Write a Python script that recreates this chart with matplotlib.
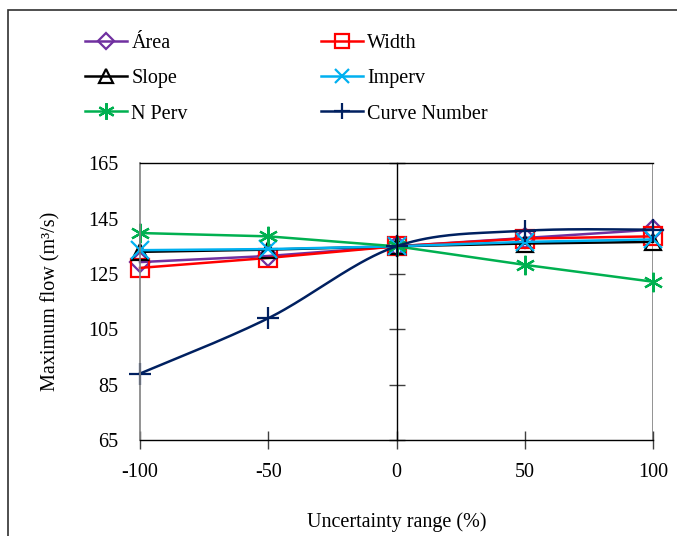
import numpy as np
import matplotlib
matplotlib.use("Agg")
import matplotlib.pyplot as plt
from matplotlib.patches import Rectangle
from matplotlib.lines import Line2D

plt.rcParams['font.family'] = ['Liberation Serif', 'DejaVu Serif']

uncertainty = [-100, -50, 0, 50, 100]
area = [129.3, 131.5, 135.0, 138.0, 141.0]
width = [127.2, 130.8, 135.0, 137.8, 138.6]
slope = [133.0, 133.8, 135.0, 136.0, 136.6]
imperv = [133.6, 134.0, 135.0, 136.6, 137.5]
n_perv = [139.8, 138.6, 135.0, 128.3, 122.2]
curve_number = [89.0, 109.0, 135.0, 140.6, 141.0]

y_ticks = [65, 85, 105, 125, 145, 165]
x_ticks = [-100, -50, 0, 50, 100]


def excel_smooth(x, y, n=40):
    """Piecewise cubic Bezier through the points (spreadsheet-style smoothing)."""
    p = np.column_stack([x, y]).astype(float)
    out = []
    for i in range(len(p) - 1):
        p0 = p[i - 1] if i > 0 else p[i]
        p1, p2 = p[i], p[i + 1]
        p3 = p[i + 2] if i + 2 < len(p) else p[i + 1]
        c1 = p1 + (p2 - p0) / 6.0
        c2 = p2 - (p3 - p1) / 6.0
        t = np.linspace(0, 1, n)[:, None]
        seg = ((1 - t) ** 3) * p1 + 3 * ((1 - t) ** 2) * t * c1 \
            + 3 * (1 - t) * t ** 2 * c2 + t ** 3 * p2
        out.append(seg if i == 0 else seg[1:])
    seg = np.vstack(out)
    return seg[:, 0], seg[:, 1]


fig = plt.figure(figsize=(6.77, 5.36), dpi=100)
ax = fig.add_axes([140 / 677, 1 - 440 / 536, 513 / 677, 276.7 / 536])

lw = 1.8
mew = 1.6
series = [
    ("Área", area, "#7030A0", "D", 10, "none"),
    ("Width", width, "#FF0000", "s", 12.5, "none"),
    ("Slope", slope, "#000000", "^", 12, "none"),
    ("Imperv", imperv, "#00B0F0", "x", 12.5, None),
    ("N Perv", n_perv, "#00B050", "*", 14, None),
]
handles = []
for name, vals, col, mk, ms, mfc in series:
    kw = dict(color=col, lw=lw, marker=mk, ms=ms, mew=mew, clip_on=False)
    if mfc == "none":
        kw["mfc"] = "none"
    if mk == "*":
        kw["marker"] = (6, 2, 0)
    (h,) = ax.plot(uncertainty, vals, label=name, **kw)
    handles.append(h)

cx, cy = excel_smooth(uncertainty, curve_number)
ax.plot(cx, cy, color="#002060", lw=lw, clip_on=False)
ax.plot(uncertainty, curve_number, ls="none", color="#002060", marker="+",
        ms=16, mew=mew, clip_on=False)
h_cn = Line2D([], [], color="#002060", lw=lw, marker="+", ms=14, mew=mew)

ax.set_xlim(-100, 100)
ax.set_ylim(65, 165)
ax.set_xticks(x_ticks)
ax.set_xticklabels([str(v) for v in x_ticks])
ax.set_yticks(y_ticks)
ax.set_yticklabels([str(v) for v in y_ticks])

# vertical value axis crossing at zero
ax.spines['right'].set_position(('data', 0))
ax.spines['right'].set_color('black')
ax.spines['right'].set_linewidth(1.0)
ax.spines['left'].set_color('#808080')
ax.spines['left'].set_linewidth(1.2)
ax.spines['top'].set_linewidth(1.0)
ax.spines['bottom'].set_linewidth(1.0)
ax.axvline(100, color='#808080', lw=1.2, zorder=0.5)

ax.tick_params(axis='y', left=False, right=True, labelleft=True,
               labelright=False, direction='inout', length=11,
               width=1.0, labelsize=14.5, pad=10, colors='#404040',
               labelcolor='black')
ax.tick_params(axis='x', direction='inout', length=13, width=1.0,
               labelsize=14.5, pad=10, colors='#404040', labelcolor='black')

ax.set_xlabel("Uncertainty range (%)", fontsize=14.5, labelpad=22)
ax.set_ylabel("Maximum flow (m³/s)", fontsize=14.5, labelpad=20)

order = [handles[0], handles[2], handles[4], handles[1], handles[3], h_cn]
labels = ["Área", "Slope", "N Perv", "Width", "Imperv", "Curve Number"]
fig.legend(order, labels, ncol=2, frameon=False, fontsize=14.5,
           loc='upper left', bbox_to_anchor=(85 / 677, 1 - 34 / 536),
           handlelength=2.1, handletextpad=0.2, columnspacing=6.6,
           labelspacing=0.8, borderaxespad=0, borderpad=0, markerscale=0.85)

# outer frame
fig.patches.append(Rectangle((8 / 677, -0.1), 1.2, 1.1 - 10 / 536 + 0.0,
                             transform=fig.transFigure, fill=False,
                             edgecolor='#303030', lw=1.2))

fig.savefig("out.png", dpi=100)
